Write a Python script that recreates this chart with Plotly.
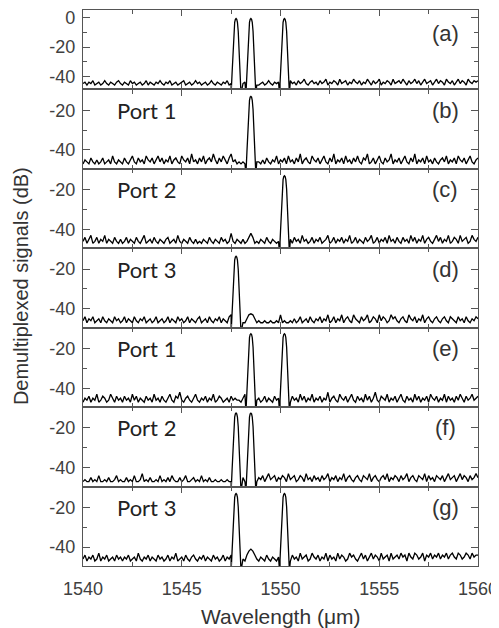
import plotly.graph_objects as go

# ---------------- data ----------------
WL_START = 1540.0
WL_STEP = 0.1          # noise-floor sampling step (nm)

PANEL_LABELS = ["(a)", "(b)", "(c)", "(d)", "(e)", "(f)", "(g)"]
PORT_LABELS = ["", "Port 1", "Port 2", "Port 3", "Port 1", "Port 2", "Port 3"]
X_TICKS = [1540, 1545, 1550, 1555, 1560]
X_MINOR = [1542.5, 1547.5, 1552.5, 1557.5]

NOISE_A = [
 -45,-44,-46,-44,-45,-43,-46,-45,-44,-46,-45,-43,-45,-46,-44,-45,-46,-44,-43,-45,
 -46,-44,-45,-46,-43,-45,-44,-46,-45,-44,-46,-45,-43,-46,-44,-45,-46,-44,-45,-43,
 -45,-46,-44,-45,-43,-46,-45,-44,-46,-45,-44,-43,-46,-45,-44,-46,-45,-43,-45,-44,
 -46,-45,-44,-46,-45,-43,-45,-46,-44,-45,-46,-44,-45,-43,-46,-45,-46,-44,-45,-44,
 -46,-45,-44,-46,-46,-46,-46,-46,-46,-46,-45,-44,-46,-45,-43,-45,-46,-44,-45,-44,
 -44,-44,-44,-44,-44,-43,-45,-44,-46,-43,-45,-44,-42,-45,-46,-44,-43,-45,-44,-46,
 -43,-45,-44,-42,-46,-44,-45,-43,-44,-46,-42,-45,-44,-43,-46,-44,-45,-42,-44,-45,
 -43,-46,-44,-45,-42,-44,-46,-43,-45,-44,-42,-46,-44,-45,-43,-44,-46,-42,-45,-44,
 -43,-45,-42,-44,-46,-43,-45,-44,-42,-45,-43,-46,-44,-42,-45,-44,-43,-46,-44,-42,
 -45,-43,-44,-46,-42,-44,-45,-43,-46,-44,-42,-45,-43,-44,-46,-42,-44,-45,-43,-44,
 -43]
NOISE_B = [
 -47,-45,-46,-47,-44,-46,-47,-45,-47,-46,-44,-47,-46,-45,-47,-43,-46,-47,-45,-46,
 -47,-44,-46,-47,-45,-43,-46,-47,-44,-46,-45,-47,-43,-45,-46,-44,-47,-45,-43,-46,
 -44,-47,-45,-46,-43,-47,-45,-44,-46,-47,-43,-45,-46,-44,-47,-42,-46,-45,-47,-44,
 -46,-43,-47,-45,-44,-46,-42,-45,-47,-44,-46,-43,-45,-47,-44,-42,-46,-45,-47,-46,
 -47,-46,-47,-46,-46,-46,-46,-46,-46,-46,-47,-45,-47,-44,-46,-47,-45,-46,-43,-47,
 -45,-46,-44,-47,-43,-46,-45,-47,-44,-46,-42,-47,-45,-44,-46,-47,-43,-45,-46,-44,
 -47,-45,-43,-46,-47,-44,-46,-42,-47,-45,-46,-44,-47,-43,-46,-45,-47,-44,-46,-43,
 -46,-47,-44,-45,-42,-47,-46,-44,-47,-45,-43,-46,-47,-44,-46,-45,-42,-47,-45,-46,
 -44,-47,-45,-43,-46,-47,-44,-46,-42,-47,-45,-46,-44,-47,-43,-46,-45,-47,-44,-46,
 -47,-45,-44,-46,-43,-47,-45,-46,-44,-47,-43,-45,-46,-44,-47,-45,-43,-46,-47,-45,
 -44]
NOISE_C = [
 -46,-44,-47,-45,-43,-47,-46,-44,-47,-45,-46,-43,-47,-45,-46,-47,-44,-46,-47,-45,
 -47,-46,-44,-47,-45,-46,-47,-44,-46,-47,-45,-43,-47,-46,-45,-47,-44,-46,-47,-45,
 -46,-47,-45,-44,-47,-46,-45,-47,-43,-46,-47,-45,-46,-47,-44,-46,-47,-45,-47,-46,
 -47,-45,-46,-47,-44,-46,-47,-45,-46,-47,-44,-46,-45,-47,-46,-42,-46,-47,-45,-46,
 -47,-45,-47,-46,-44,-42,-44,-47,-46,-47,-45,-46,-47,-44,-46,-47,-45,-46,-47,-46,
 -46,-46,-46,-46,-46,-45,-47,-44,-46,-45,-47,-43,-46,-45,-47,-46,-44,-47,-45,-46,
 -44,-47,-46,-45,-43,-47,-46,-44,-47,-45,-46,-44,-47,-45,-46,-43,-47,-46,-44,-47,
 -45,-46,-47,-44,-46,-45,-43,-47,-46,-44,-47,-45,-46,-44,-47,-43,-46,-45,-47,-44,
 -46,-47,-44,-46,-45,-47,-43,-46,-44,-47,-45,-46,-43,-47,-45,-44,-46,-47,-45,-43,
 -46,-44,-47,-45,-46,-43,-47,-46,-44,-45,-47,-43,-46,-45,-44,-47,-46,-43,-45,-46,
 -44]
NOISE_D = [
 -46,-44,-47,-45,-46,-44,-47,-46,-45,-47,-44,-46,-47,-45,-46,-47,-44,-46,-45,-47,
 -46,-44,-47,-45,-46,-47,-44,-46,-47,-45,-46,-44,-47,-46,-45,-47,-46,-44,-47,-46,
 -45,-47,-46,-44,-47,-45,-46,-47,-44,-46,-45,-47,-46,-44,-47,-45,-46,-47,-45,-44,
 -47,-46,-45,-47,-44,-46,-47,-45,-46,-44,-47,-45,-46,-47,-44,-43,-45,-44,-43,-44,
 -46,-47,-47,-45,-43,-42.5,-43,-45,-47,-46,-47,-47,-46,-47,-47,-46,-47,-47,-46,-47,
 -43,-47,-46,-47,-47,-46,-47,-45,-47,-46,-44,-47,-46,-45,-47,-44,-46,-47,-45,-46,
 -44,-47,-45,-46,-43,-47,-46,-44,-47,-45,-46,-43,-47,-45,-44,-46,-47,-43,-45,-46,
 -47,-44,-46,-45,-43,-47,-46,-44,-45,-47,-43,-46,-44,-45,-47,-46,-43,-45,-44,-46,
 -47,-45,-44,-46,-47,-43,-45,-46,-44,-47,-45,-46,-43,-47,-45,-44,-46,-47,-45,-44,
 -46,-47,-45,-44,-46,-47,-44,-45,-46,-47,-44,-46,-45,-47,-44,-46,-47,-45,-46,-44,
 -45]
NOISE_E = [
 -47,-45,-46,-44,-47,-45,-46,-43,-47,-46,-44,-45,-47,-46,-43,-45,-47,-44,-46,-45,
 -47,-44,-46,-45,-47,-43,-46,-44,-47,-45,-46,-47,-44,-46,-45,-47,-43,-46,-45,-47,
 -44,-46,-47,-45,-43,-46,-47,-44,-45,-42,-46,-47,-45,-44,-46,-47,-45,-43,-46,-47,
 -45,-46,-44,-47,-45,-46,-43,-47,-46,-44,-45,-47,-46,-45,-47,-44,-46,-45,-46,-46,
 -47,-45,-43,-46,-46,-46,-46,-46,-46,-45,-47,-46,-44,-47,-45,-46,-47,-44,-46,-45,
 -46,-46,-46,-46,-46,-47,-44,-46,-45,-47,-43,-46,-44,-47,-45,-46,-43,-47,-45,-46,
 -44,-47,-45,-46,-42,-47,-45,-44,-46,-47,-43,-45,-46,-44,-47,-45,-43,-46,-47,-44,
 -46,-45,-47,-43,-46,-44,-47,-45,-42,-46,-47,-44,-45,-46,-43,-47,-45,-46,-44,-47,
 -45,-43,-46,-47,-44,-46,-45,-47,-43,-46,-44,-47,-45,-46,-44,-47,-43,-45,-46,-44,
 -47,-45,-46,-43,-47,-44,-46,-45,-47,-44,-46,-43,-45,-47,-44,-46,-45,-43,-46,-45,
 -44]
NOISE_F = [
 -47,-46,-47,-47,-45,-47,-46,-47,-44,-47,-47,-46,-47,-45,-47,-47,-46,-44,-47,-46,
 -47,-47,-45,-47,-46,-47,-44,-47,-47,-46,-43,-47,-46,-47,-45,-47,-47,-46,-47,-44,
 -47,-46,-47,-45,-47,-44,-46,-47,-47,-45,-47,-46,-44,-47,-47,-46,-45,-47,-46,-47,
 -44,-47,-46,-47,-45,-47,-47,-46,-47,-47,-46,-47,-47,-46,-47,-47,-46,-46,-46,-46,
 -47,-45,-47,-46,-46,-46,-46,-46,-47,-45,-46,-44,-47,-45,-43,-46,-45,-44,-47,-45,
 -46,-44,-45,-47,-43,-46,-45,-44,-47,-46,-44,-45,-47,-43,-46,-45,-47,-44,-46,-45,
 -47,-44,-46,-45,-43,-47,-45,-46,-44,-47,-45,-46,-43,-47,-45,-44,-46,-47,-45,-44,
 -46,-47,-44,-45,-46,-43,-47,-45,-44,-46,-47,-45,-44,-46,-43,-47,-45,-46,-44,-45,
 -47,-44,-46,-45,-43,-47,-45,-44,-46,-47,-44,-45,-46,-43,-47,-44,-46,-45,-47,-44,
 -45,-46,-44,-47,-45,-43,-46,-45,-44,-47,-45,-43,-46,-44,-45,-47,-44,-46,-45,-43,
 -45]
NOISE_G = [
 -46,-44,-47,-45,-46,-44,-47,-46,-43,-47,-45,-46,-44,-47,-46,-45,-47,-44,-46,-45,
 -47,-45,-46,-44,-47,-46,-45,-47,-43,-46,-47,-45,-46,-44,-47,-45,-46,-47,-44,-46,
 -45,-47,-46,-44,-47,-45,-46,-43,-47,-46,-45,-47,-44,-46,-47,-45,-44,-46,-47,-45,
 -46,-44,-47,-45,-46,-47,-44,-46,-45,-47,-46,-44,-47,-45,-46,-44,-46,-46,-46,-46,
 -47,-46,-47,-44,-42,-41,-42,-44,-46,-47,-45,-46,-47,-44,-46,-47,-45,-46,-47,-45,
 -46,-46,-46,-46,-46,-47,-44,-46,-45,-47,-43,-46,-45,-44,-47,-46,-43,-45,-46,-44,
 -47,-45,-46,-43,-47,-44,-46,-45,-47,-43,-46,-44,-45,-47,-46,-43,-45,-44,-46,-47,
 -45,-43,-46,-44,-47,-45,-43,-46,-44,-45,-47,-43,-46,-45,-44,-47,-43,-46,-45,-44,
 -46,-43,-45,-44,-47,-43,-45,-46,-43,-44,-46,-45,-43,-47,-44,-45,-43,-46,-44,-45,
 -43,-46,-44,-45,-43,-46,-44,-43,-45,-46,-43,-44,-46,-45,-43,-44,-46,-43,-45,-44,
 -44]
NOISE = [NOISE_A, NOISE_B, NOISE_C, NOISE_D, NOISE_E, NOISE_F, NOISE_G]

# channel centre wavelengths (nm) and peak levels (dB) per panel
PEAK_WL = [
    [1547.75, 1548.5, 1550.2],
    [1548.5],
    [1550.2],
    [1547.75],
    [1548.5, 1550.2],
    [1547.75, 1548.5],
    [1547.75, 1550.2],
]
PEAK_DB = [
    [-0.5, -0.5, -0.5],
    [-13],
    [-13],
    [-13.5],
    [-12.5, -12.5],
    [-12.5, -12.5],
    [-13, -13],
]
# shape of one channel: offset from centre (nm) and fractional depth toward the base
PEAK_OFFSETS = [-0.25, -0.20, -0.15, -0.11, -0.07, -0.035, 0.0, 0.035, 0.07, 0.11, 0.15, 0.20, 0.25]
PEAK_DEPTH = [1.0, 0.72, 0.42, 0.17, 0.05, 0.01, 0.0, 0.01, 0.05, 0.17, 0.42, 0.72, 1.0]
PEAK_BASE_DB = -52.0
PEAK_EXCLUDE = 0.24

Y_RANGES = [[-49, 5.3]] + [[-49.5, -9.5]] * 6

# ---------------- figure ----------------
N = 7
fig = go.Figure()
AX = "#555555"
TXT = "#404040"

for i in range(N):
    noise = NOISE[i]
    pts = []
    for k, v in enumerate(noise):
        x = round(WL_START + WL_STEP * k, 3)
        if all(abs(x - c) > PEAK_EXCLUDE for c in PEAK_WL[i]):
            pts.append((x, v))
    for c, top in zip(PEAK_WL[i], PEAK_DB[i]):
        for off, d in zip(PEAK_OFFSETS, PEAK_DEPTH):
            pts.append((c + off, top - d * (top - PEAK_BASE_DB)))
    pts.sort(key=lambda p: p[0])
    xa = "x" if i == 0 else f"x{i+1}"
    ya = "y" if i == 0 else f"y{i+1}"
    fig.add_trace(go.Scatter(
        x=[p[0] for p in pts], y=[p[1] for p in pts],
        mode="lines", line=dict(color="black", width=1.3),
        xaxis=xa, yaxis=ya, showlegend=False, hoverinfo="skip"))

    top = 1 - i / N
    bot = 1 - (i + 1) / N
    xkey = "xaxis" if i == 0 else f"xaxis{i+1}"
    ykey = "yaxis" if i == 0 else f"yaxis{i+1}"
    fig.update_layout(**{
        xkey: dict(
            domain=[0, 1], anchor=ya, range=[1540, 1560],
            tickvals=X_TICKS, ticktext=[str(t) for t in X_TICKS],
            showticklabels=(i == N - 1),
            ticks="inside", ticklen=6, tickwidth=1.2, tickcolor=AX,
            minor=dict(tickvals=X_MINOR, ticks="inside", ticklen=4,
                       tickcolor=AX, tickwidth=1.2),
            showline=True, linecolor=AX, linewidth=1.4, mirror="ticks",
            showgrid=False, zeroline=False,
            tickfont=dict(family="Liberation Sans, Arial", size=18, color=TXT),
            ticklabeloverflow="allow", ticklabelstandoff=6,
            **({} if i == 0 else {"matches": "x"}),
        ),
        ykey: dict(
            domain=[bot, top], anchor=xa, range=Y_RANGES[i],
            tickvals=[0, -20, -40] if i == 0 else [-20, -40],
            ticktext=["0", "-20", "-40"] if i == 0 else ["-20", "-40"],
            ticks="inside", ticklen=7, tickwidth=1.2, tickcolor=AX,
            minor=dict(tickvals=[-10, -30] if i == 0 else [-30],
                       ticks="inside", ticklen=4, tickcolor=AX, tickwidth=1.2),
            showline=True, linecolor=AX, linewidth=1.4, mirror="ticks",
            showgrid=False, zeroline=False,
            tickfont=dict(family="Liberation Sans, Arial", size=18, color=TXT),
            ticklabeloverflow="allow", ticklabelstandoff=3,
        ),
    })
    fig.add_annotation(
        x=1558.35, y=-11 if i == 0 else -20, xref=xa, yref=ya,
        text=PANEL_LABELS[i], showarrow=False, xanchor="center", yanchor="middle",
        font=dict(family="Liberation Sans, Arial", size=22, color="#333333"))
    if PORT_LABELS[i]:
        fig.add_annotation(
            x=1541.6, y=-20, xref=xa, yref=ya,
            text=PORT_LABELS[i], showarrow=False, xanchor="left", yanchor="middle",
            font=dict(family="Lato, Open Sans, sans-serif", size=22, color="#222222"))

fig.add_annotation(
    x=0.5, y=-0.09, xref="paper", yref="paper", text="Wavelength (\u03bcm)",
    showarrow=False, xanchor="center", yanchor="middle",
    font=dict(family="Liberation Sans, Arial", size=21, color="#333333"))
fig.add_annotation(
    x=-0.155, y=0.503, xref="paper", yref="paper", text="Demultiplexed signals (dB)",
    showarrow=False, xanchor="center", yanchor="middle", textangle=-90,
    font=dict(family="Liberation Sans, Arial", size=20, color="#333333"))

# page body has an 8px margin, so the figure is 8px smaller to sit in the 499x628 window
fig.update_layout(
    width=491, height=620,
    margin=dict(l=75, r=21, t=0, b=62),
    paper_bgcolor="white", plot_bgcolor="white",
    showlegend=False,
)

fig.write_html("out.html")
